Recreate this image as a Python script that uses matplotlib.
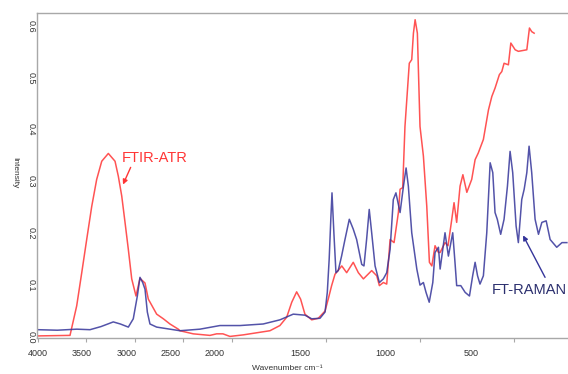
import numpy as np
import matplotlib
matplotlib.use("Agg")
from matplotlib import pyplot as plt

plt.rcParams['font.family'] = ['Liberation Sans', 'DejaVu Sans']

# FTIR-ATR spectrum (wavenumber cm-1, intensity)
ftir_wn = [4000, 3669, 3600, 3548, 3497, 3445, 3394, 3342, 3274, 3205, 3171, 3136, 3102,
           3068, 3033, 2989, 2948, 2896, 2862, 2776, 2707, 2639, 2553, 2536, 2399, 2227,
           2158, 2093, 2021, 1940, 1869, 1798, 1745, 1709, 1682, 1656, 1635, 1612, 1576,
           1541, 1505, 1488, 1470, 1452, 1416, 1390, 1355, 1328, 1301, 1257, 1230, 1216,
           1195, 1177, 1159, 1138, 1115, 1106, 1092, 1080, 1057, 1044, 1035, 1026, 1014,
           1000, 982, 964, 950, 937, 920, 902, 893, 867, 851, 831, 819, 805, 787, 772, 751,
           725, 707, 690, 663, 636, 618, 601, 578, 565, 553, 530, 517, 494, 477, 432, 418,
           406, 393]
ftir_int = [0.002, 0.003, 0.060, 0.124, 0.188, 0.252, 0.304, 0.339, 0.354, 0.339, 0.310,
            0.272, 0.221, 0.169, 0.112, 0.079, 0.113, 0.104, 0.073, 0.044, 0.035, 0.025,
            0.015, 0.012, 0.006, 0.003, 0.006, 0.006, 0.001, 0.004, 0.008, 0.012, 0.022,
            0.038, 0.067, 0.087, 0.073, 0.044, 0.033, 0.036, 0.050, 0.073, 0.099, 0.121,
            0.137, 0.124, 0.144, 0.124, 0.112, 0.128, 0.118, 0.099, 0.105, 0.102, 0.188,
            0.182, 0.240, 0.285, 0.288, 0.406, 0.528, 0.535, 0.586, 0.612, 0.586, 0.406,
            0.349, 0.252, 0.144, 0.137, 0.176, 0.163, 0.163, 0.182, 0.176, 0.227, 0.259,
            0.221, 0.291, 0.313, 0.279, 0.304, 0.342, 0.355, 0.381, 0.438, 0.464, 0.480,
            0.506, 0.512, 0.528, 0.525, 0.567, 0.554, 0.551, 0.554, 0.596, 0.589, 0.586]

# FT-Raman spectrum
raman_wn = [4000, 3800, 3600, 3463, 3350, 3223, 3150, 3068, 3017, 2975, 2948, 2920, 2896,
            2872, 2845, 2776, 2639, 2536, 2330, 2124, 1957, 1834, 1745, 1674, 1612, 1576,
            1532, 1505, 1493, 1483, 1474, 1468, 1458, 1447, 1435, 1417, 1399, 1376, 1355,
            1337, 1310, 1298, 1284, 1270, 1257, 1239, 1216, 1195, 1177, 1159, 1142, 1128,
            1106, 1088, 1074, 1062, 1044, 1017, 1000, 982, 968, 951, 932, 920, 902, 893,
            867, 849, 826, 814, 805, 783, 760, 737, 720, 707, 694, 681, 663, 645, 627, 613,
            601, 589, 571, 553, 535, 521, 507, 489, 477, 459, 446, 432, 420, 406, 388, 370,
            352, 329, 308, 273, 245, 219]
raman_int = [0.014, 0.013, 0.015, 0.014, 0.020, 0.029, 0.025, 0.019, 0.035, 0.079, 0.115,
             0.105, 0.092, 0.048, 0.025, 0.019, 0.015, 0.012, 0.015, 0.022, 0.022, 0.025,
             0.033, 0.044, 0.042, 0.035, 0.036, 0.048, 0.086, 0.150, 0.230, 0.278, 0.201,
             0.124, 0.128, 0.156, 0.188, 0.227, 0.208, 0.188, 0.140, 0.137, 0.188, 0.246,
             0.201, 0.137, 0.105, 0.112, 0.124, 0.169, 0.265, 0.278, 0.240, 0.291, 0.326,
             0.291, 0.201, 0.131, 0.100, 0.105, 0.086, 0.067, 0.105, 0.163, 0.173, 0.131,
             0.201, 0.156, 0.201, 0.144, 0.099, 0.099, 0.086, 0.079, 0.118, 0.144, 0.118,
             0.102, 0.118, 0.201, 0.336, 0.317, 0.240, 0.227, 0.198, 0.227, 0.291, 0.358,
             0.317, 0.214, 0.182, 0.265, 0.285, 0.317, 0.368, 0.317, 0.227, 0.198, 0.221,
             0.224, 0.188, 0.173, 0.182, 0.182]

x_ticks = [4000, 3500, 3000, 2500, 2000, 1500, 1000, 500]
y_ticks = [0.0, 0.1, 0.2, 0.3, 0.4, 0.5, 0.6]

RED = '#ff3535'
BLUE = '#35359a'
GRAY = '#a8a8a8'
TXT = '#333333'


# region above 2000 cm-1 is drawn at about half scale
def fwd(x):
    x = np.asarray(x, dtype=float)
    return np.where(x <= 2000, x, 2000 + (x - 2000) * 0.516)


def inv(u):
    u = np.asarray(u, dtype=float)
    return np.where(u <= 2000, u, 2000 + (u - 2000) / 0.516)


fig = plt.figure(figsize=(5.68, 3.74), dpi=100)
ax = fig.add_axes([0.065, 0.0963, 0.935, 0.869])
ax.set_xscale('function', functions=(fwd, inv))

ax.plot(ftir_wn, ftir_int, color=RED, lw=1.1, alpha=0.85, solid_joinstyle='round')
ax.plot(raman_wn, raman_int, color=BLUE, lw=1.1, alpha=0.85, solid_joinstyle='round')

ax.set_xlim(4010, 213)
ax.set_ylim(-0.002, 0.625)

for s in ['left', 'top', 'bottom']:
    ax.spines[s].set_color(GRAY)
    ax.spines[s].set_linewidth(1.0)
ax.spines['right'].set_visible(False)

ax.set_xticks(x_ticks)
ax.tick_params(axis='x', length=3, width=0.8, color=GRAY, labelbottom=False)
ax.set_yticks(y_ticks)
ax.set_yticklabels(['%.1f' % v for v in y_ticks], rotation=270, va='center',
                   ha='center', fontsize=6.5, color=TXT)
ax.tick_params(axis='y', length=0, pad=4)

# tick labels in the original sit on a slightly compressed row
x0 = ax.transData.transform((4000, 0))[0]
for v in x_ticks:
    tx = ax.transData.transform((v, 0))[0]
    dx = -0.09 * (tx - x0) * 72 / 100
    ax.annotate(str(v), xy=(v, 0), xycoords=('data', 'axes fraction'),
                xytext=(dx, -11), textcoords='offset points',
                ha='center', va='center', fontsize=6.5, color=TXT)

fig.text(0.505, 0.016, 'Wavenumber cm\u207b\u00b9', ha='center', va='center',
         fontsize=6, color=TXT)
fig.text(0.026, 0.537, 'Intensity', rotation=270, ha='center', va='center',
         fontsize=6, color=TXT)

ax.annotate('FTIR-ATR', xy=(3123, 0.294), xytext=(3133, 0.346),
            ha='left', va='center', fontsize=10.5, color=RED,
            arrowprops=dict(arrowstyle='-|>', color=RED, lw=1.0, mutation_scale=7,
                            shrinkA=0, shrinkB=0, relpos=(0.15, 0.0)))
ax.annotate('', xy=(452, 0.196), xytext=(335, 0.115),
            arrowprops=dict(arrowstyle='-|>', color=BLUE, lw=1.0, mutation_scale=7,
                            shrinkA=0, shrinkB=0))
ax.text(617, 0.090, 'FT-RAMAN', ha='left', va='center', fontsize=10.5, color='#2b2f6e')

fig.savefig('out.png', dpi=100)
